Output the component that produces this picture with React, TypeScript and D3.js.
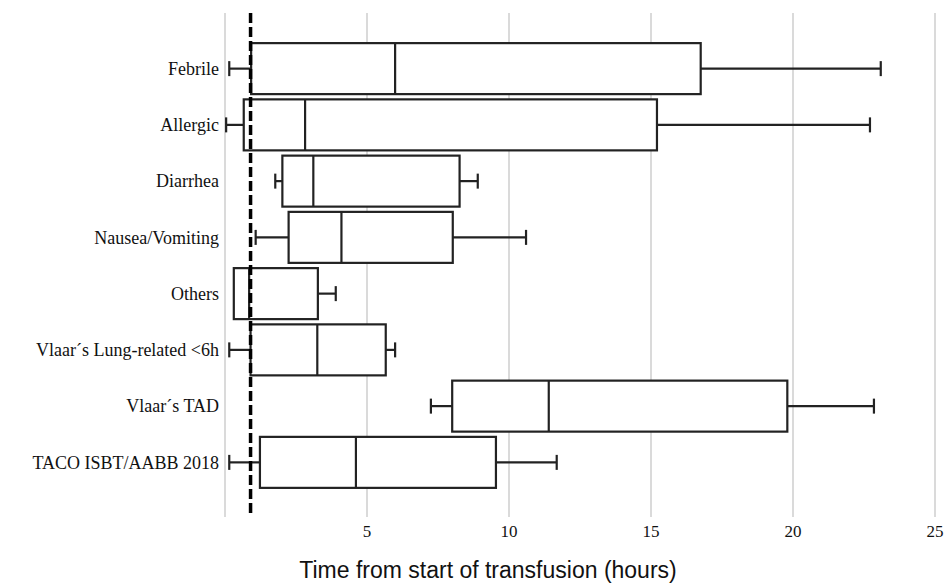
import React, { useEffect, useRef } from 'react'
import * as d3 from 'd3'

// categories top to bottom
const categories = [
    'Febrile',
    'Allergic',
    'Diarrhea',
    'Nausea/Vomiting',
    'Others',
    'Vlaar\u00b4s Lung-related <6h',
    'Vlaar\u00b4s TAD',
    'TACO ISBT/AABB 2018'
]

// box plot values (hours)
const whiskerLow = [0.15, 0.04, 1.77, 1.08, 0.31, 0.15, 7.25, 0.15]
const q1 = [0.92, 0.66, 2.02, 2.24, 0.31, 0.9, 8.0, 1.23]
const median = [5.99, 2.82, 3.11, 4.1, 0.85, 3.25, 11.4, 4.61]
const q3 = [16.75, 15.21, 8.26, 8.02, 3.27, 5.66, 19.8, 9.54]
const whiskerHigh = [23.09, 22.71, 8.9, 10.6, 3.9, 5.99, 22.85, 11.68]

const gridValues = [0, 5, 10, 15, 20, 25]
const tickValues = [5, 10, 15, 20, 25]
const referenceLine = 0.9

export default function App() {
    const ref = useRef<SVGSVGElement>(null)

    useEffect(() => {
        const svg = d3.select(ref.current)
        svg.selectAll('*').remove()

        const width = 950
        const height = 585

        svg.attr('width', width).attr('height', height)

        // scales
        const x = d3.scaleLinear().domain([0, 25]).range([225, 935])
        const y = d3.scalePoint<string>().domain(categories).range([40.5, 490.5]).padding(0.5)

        const boxHalf = 25.5
        const capHalf = 7.5
        const stroke = '#222'

        // gridlines
        svg.append('g')
            .selectAll('line')
            .data(gridValues)
            .enter()
            .append('line')
            .attr('x1', d => x(d))
            .attr('x2', d => x(d))
            .attr('y1', 13)
            .attr('y2', 517)
            .attr('stroke', '#dadada')
            .attr('stroke-width', 2)

        // x tick labels
        svg.append('g')
            .selectAll('text')
            .data(tickValues)
            .enter()
            .append('text')
            .attr('x', d => x(d))
            .attr('y', 537)
            .attr('text-anchor', 'middle')
            .attr('font-family', '"Liberation Serif", "Times New Roman", serif')
            .attr('font-size', 17)
            .attr('fill', '#111')
            .text(d => d)

        // category labels
        svg.append('g')
            .selectAll('text')
            .data(categories)
            .enter()
            .append('text')
            .attr('x', 219)
            .attr('y', d => y(d)!)
            .attr('dy', '0.35em')
            .attr('text-anchor', 'end')
            .attr('font-family', '"Liberation Serif", "Times New Roman", serif')
            .attr('font-size', 18)
            .attr('fill', '#111')
            .text(d => d)

        const rows = categories.map((c, i) => ({
            c,
            lo: whiskerLow[i],
            q1: q1[i],
            med: median[i],
            q3: q3[i],
            hi: whiskerHigh[i]
        }))

        const g = svg.append('g')
            .attr('fill', 'none')
            .attr('stroke', stroke)
            .attr('stroke-width', 2.2)

        rows.forEach(d => {
            const cy = y(d.c)!

            // whiskers
            if (d.lo < d.q1) {
                g.append('line')
                    .attr('x1', x(d.lo)).attr('x2', x(d.q1))
                    .attr('y1', cy).attr('y2', cy)
                g.append('line')
                    .attr('x1', x(d.lo)).attr('x2', x(d.lo))
                    .attr('y1', cy - capHalf).attr('y2', cy + capHalf)
            }
            if (d.hi > d.q3) {
                g.append('line')
                    .attr('x1', x(d.q3)).attr('x2', x(d.hi))
                    .attr('y1', cy).attr('y2', cy)
                g.append('line')
                    .attr('x1', x(d.hi)).attr('x2', x(d.hi))
                    .attr('y1', cy - capHalf).attr('y2', cy + capHalf)
            }

            // box
            g.append('rect')
                .attr('x', x(d.q1))
                .attr('y', cy - boxHalf)
                .attr('width', x(d.q3) - x(d.q1))
                .attr('height', boxHalf * 2)
                .attr('fill', 'white')

            // median
            g.append('line')
                .attr('x1', x(d.med)).attr('x2', x(d.med))
                .attr('y1', cy - boxHalf).attr('y2', cy + boxHalf)
        })

        // dashed reference line
        svg.append('line')
            .attr('x1', x(referenceLine))
            .attr('x2', x(referenceLine))
            .attr('y1', 13)
            .attr('y2', 517)
            .attr('stroke', '#000')
            .attr('stroke-width', 3.5)
            .attr('stroke-dasharray', '10,4')

        // x axis title
        svg.append('text')
            .attr('x', 488)
            .attr('y', 578)
            .attr('text-anchor', 'middle')
            .attr('font-family', '"Liberation Sans", Arial, sans-serif')
            .attr('font-size', 23)
            .attr('fill', '#111')
            .text('Time from start of transfusion (hours)')
    }, [])

    return (
        <div style={{ position: 'absolute', left: 0, top: 0, width: 950, height: 585, background: '#fff' }}>
            <svg ref={ref} style={{ display: 'block' }} />
        </div>
    )
}
